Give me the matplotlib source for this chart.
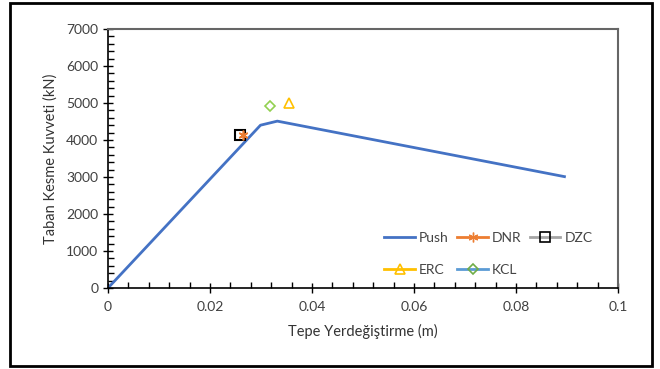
import matplotlib.pyplot as plt
from matplotlib.lines import Line2D
from matplotlib.patches import Rectangle
from matplotlib.ticker import MultipleLocator

plt.rcParams['font.family'] = ['Lato', 'DejaVu Sans']

# pushover curve
push_x = [0.0, 0.0299, 0.0332, 0.0895]
push_y = [0, 4400, 4510, 3010]

# performance points
dnr_x, dnr_y = [0.0264], [4130]
dzc_x, dzc_y = [0.0258], [4140]
erc_x, erc_y = [0.0354], [4990]
kcl_x, kcl_y = [0.0318], [4920]

fig = plt.figure(figsize=(6.6, 3.69), dpi=100)
ax = fig.add_axes([108 / 660, 1 - 288 / 369, 510 / 660, 259 / 369])

ax.plot(push_x, push_y, color='#4472C4', lw=2, zorder=2)
ax.plot(dzc_x, dzc_y, ls='none', marker='s', ms=7, mfc='none', mec='black', mew=1.5, zorder=3)
ax.plot(dnr_x, dnr_y, ls='none', marker=(6, 2, 0), ms=7, mec='#ED7D31', mew=1.2, zorder=3)
ax.plot(erc_x, erc_y, ls='none', marker='^', ms=7, mfc='none', mec='#FFC000', mew=1.2, zorder=3)
ax.plot(kcl_x, kcl_y, ls='none', marker='D', ms=5.5, mfc='none', mec='#92D050', mew=1.2, zorder=3)

ax.set_xlim(0, 0.1)
ax.set_ylim(0, 7000)
ax.xaxis.set_minor_locator(MultipleLocator(0.004))
ax.yaxis.set_major_locator(MultipleLocator(1000))
ax.yaxis.set_minor_locator(MultipleLocator(200))
ax.set_xticks([0, 0.02, 0.04, 0.06, 0.08, 0.1])
ax.set_xticklabels(['0', '0.02', '0.04', '0.06', '0.08', '0.1'])
ax.tick_params(which='major', direction='inout', length=7, width=1, labelsize=10, colors='black', labelcolor='#404040')
ax.tick_params(which='minor', direction='in', length=4, width=1)
ax.tick_params(axis='x', pad=6)

for s in ['left', 'bottom']:
    ax.spines[s].set_color('black')
    ax.spines[s].set_linewidth(1.2)
for s in ['top', 'right']:
    ax.spines[s].set_color('#666666')
    ax.spines[s].set_linewidth(1.5)

ax.set_xlabel('Tepe Yerdeğiştirme (m)', fontsize=10.5, color='#333333', labelpad=8)
ax.set_ylabel('Taban Kesme Kuvveti (kN)', fontsize=10.5, color='#333333', labelpad=6)

h_push = Line2D([], [], color='#4472C4', lw=2)
h_dnr = Line2D([], [], color='#ED7D31', lw=2, marker=(6, 2, 0), ms=7, mec='#ED7D31')
h_dzc = Line2D([], [], color='#A5A5A5', lw=2, marker='s', ms=7, mfc='none', mec='black', mew=1.2)
h_erc = Line2D([], [], color='#FFC000', lw=2, marker='^', ms=7, mfc='none', mec='#FFC000', mew=1.2)
h_kcl = Line2D([], [], color='#5B9BD5', lw=2, marker='D', ms=5, mfc='none', mec='#70AD47', mew=1.2)
# column-wise fill -> rows: Push DNR DZC / ERC KCL
ax.legend([h_push, h_erc, h_dnr, h_kcl, h_dzc], ['Push', 'ERC', 'DNR', 'KCL', 'DZC'],
          loc='lower right', bbox_to_anchor=(0.975, 0.0), ncol=3,
          frameon=False, fontsize=10, handlelength=2.2, columnspacing=0.6,
          handletextpad=0.3, labelspacing=1.4, labelcolor='#444444')

fig.patches.append(Rectangle((10 / 660, 3 / 369), 642 / 660, 363 / 369, transform=fig.transFigure,
                             fill=False, edgecolor='black', lw=2))

fig.savefig('out.png', dpi=100)
